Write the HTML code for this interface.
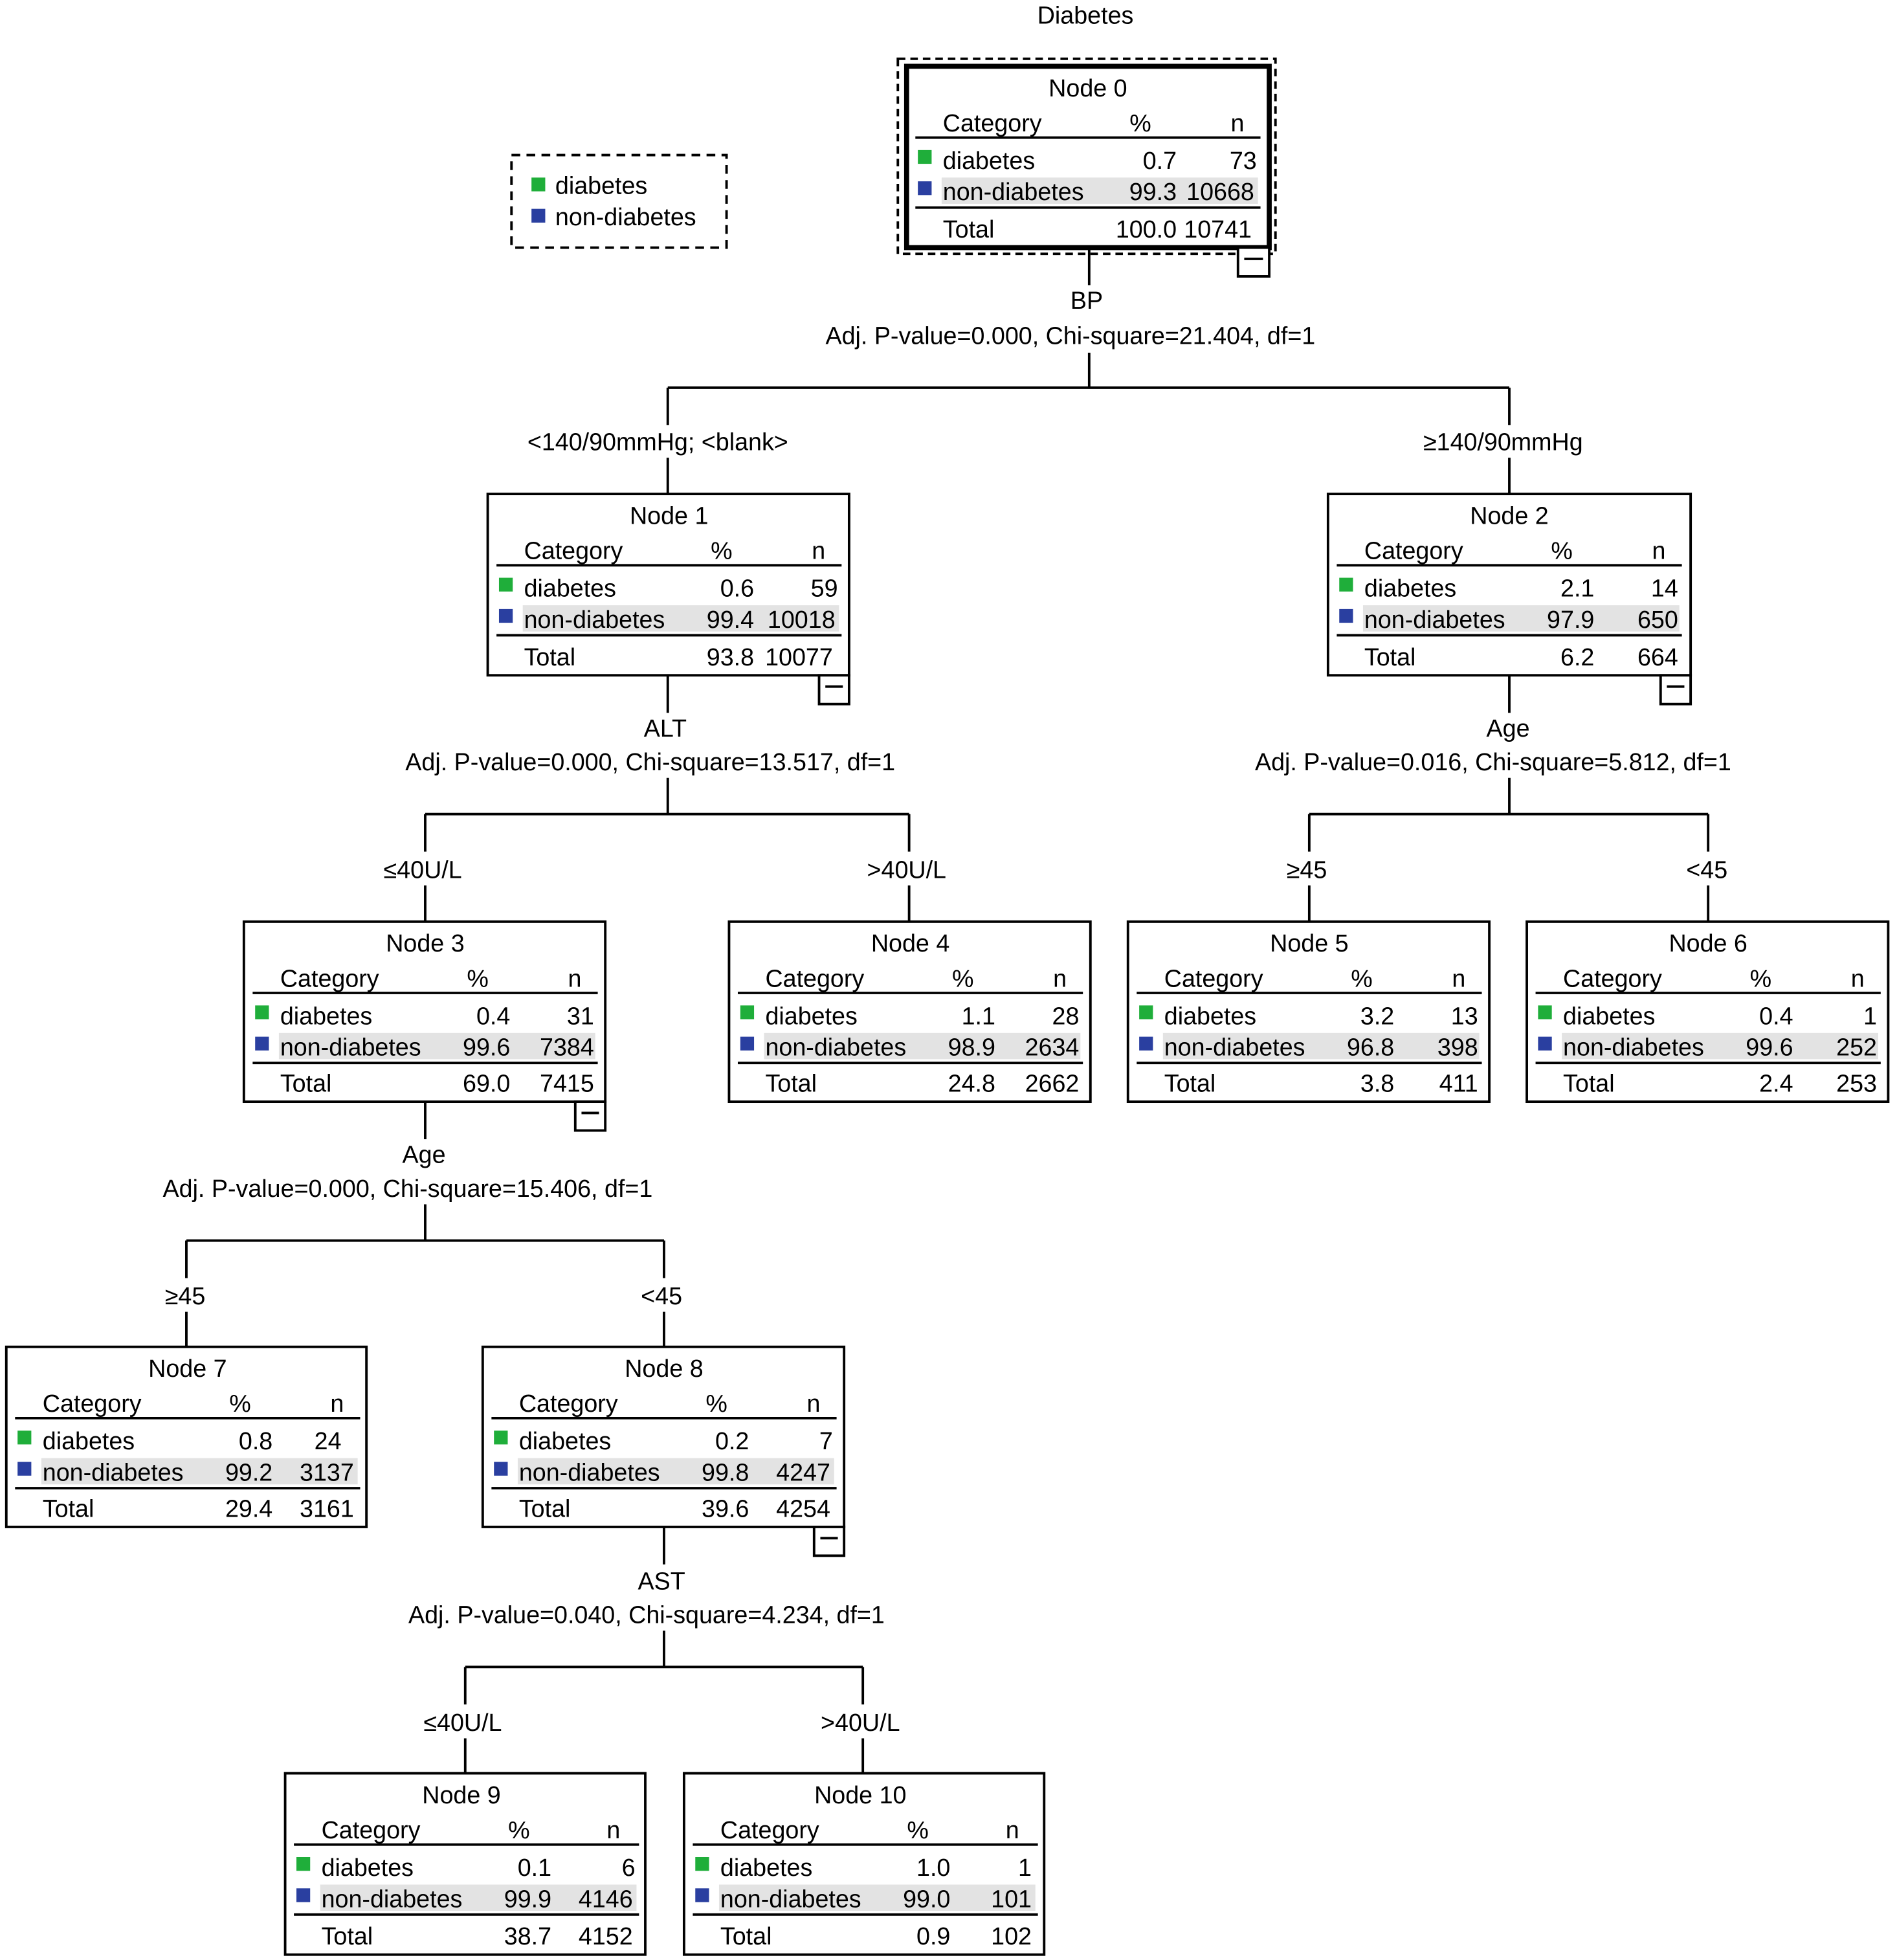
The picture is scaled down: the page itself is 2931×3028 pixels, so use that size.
<!DOCTYPE html>
<html><head><meta charset="utf-8"><style>
html,body{margin:0;padding:0;background:#fff}
svg{display:block}
text{font-family:"Liberation Sans",Arial,sans-serif;font-size:19.5px;fill:#000}
.m{text-anchor:middle}.e{text-anchor:end}
</style></head><body>
<svg width="2931" height="3028" viewBox="0 0 1517 1567.3" xmlns="http://www.w3.org/2000/svg">
<rect x="0" y="0" width="1517" height="1568" fill="#fff"/>
<text class="m" x="868" y="19">Diabetes</text>

<!-- legend -->
<rect x="409" y="124" width="172" height="74" fill="none" stroke="#000" stroke-width="2" stroke-dasharray="7,5"/>
<rect x="425" y="142" width="11" height="11" fill="#1fae3a"/>
<rect x="425" y="167" width="11" height="11" fill="#2a3fa0"/>
<text x="444" y="155">diabetes</text>
<text x="444" y="180">non-diabetes</text>

<!-- connectors -->
<g stroke="#000" stroke-width="2" fill="none">
<path d="M871 198V228M871 282V310M534 310H1207M534 310V340M534 366V395M1207 310V340M1207 366V395"/>
<path d="M534 540V570M534 622V651M340 651H727M340 651V681M340 708V737M727 651V681M727 708V737"/>
<path d="M1207 540V570M1207 622V651M1047 651H1366M1047 651V681M1047 708V737M1366 651V681M1366 708V737"/>
<path d="M340 881V911M340 963V992M149 992H531M149 992V1022M149 1049V1077M531 992V1022M531 1049V1077"/>
<path d="M531 1221V1251M531 1304V1333M372 1333H690M372 1333V1363M372 1390V1418M690 1333V1363M690 1390V1418"/>
</g>
<text class="m" x="869" y="247">BP</text>
<text class="m" x="856" y="275">Adj. P-value=0.000, Chi-square=21.404, df=1</text>
<text class="m" x="526" y="360">&lt;140/90mmHg; &lt;blank&gt;</text>
<text class="m" x="1202" y="360">≥140/90mmHg</text>
<text class="m" x="532" y="589">ALT</text>
<text class="m" x="520" y="616">Adj. P-value=0.000, Chi-square=13.517, df=1</text>
<text class="m" x="338" y="702">≤40U/L</text>
<text class="m" x="725" y="702">&gt;40U/L</text>
<text class="m" x="1206" y="589">Age</text>
<text class="m" x="1194" y="616">Adj. P-value=0.016, Chi-square=5.812, df=1</text>
<text class="m" x="1045" y="702">≥45</text>
<text class="m" x="1365" y="702">&lt;45</text>
<text class="m" x="339" y="930">Age</text>
<text class="m" x="326" y="957">Adj. P-value=0.000, Chi-square=15.406, df=1</text>
<text class="m" x="148" y="1043">≥45</text>
<text class="m" x="529" y="1043">&lt;45</text>
<text class="m" x="529" y="1271">AST</text>
<text class="m" x="517" y="1298">Adj. P-value=0.040, Chi-square=4.234, df=1</text>
<text class="m" x="370" y="1384">≤40U/L</text>
<text class="m" x="688" y="1384">&gt;40U/L</text>

<!-- Node 0 -->
<rect x="718" y="47" width="302" height="156" fill="none" stroke="#000" stroke-width="2" stroke-dasharray="6,4"/>
<g transform="translate(725,53)">
<rect x="0" y="0" width="290" height="145" fill="#fff" stroke="#000" stroke-width="4"/>
<text class="m" x="145" y="24">Node 0</text>
<text x="29" y="52">Category</text><text class="m" x="187" y="52">%</text><text class="e" x="270" y="52">n</text>
<line x1="7" y1="57" x2="283" y2="57" stroke="#000" stroke-width="2"/>
<rect x="28" y="89" width="253" height="21" fill="#e3e3e3"/>
<rect x="9" y="67" width="11" height="11" fill="#1fae3a"/><rect x="9" y="92" width="11" height="11" fill="#2a3fa0"/>
<text x="29" y="82">diabetes</text><text class="e" x="216" y="82">0.7</text><text class="e" x="280" y="82">73</text>
<text x="29" y="107">non-diabetes</text><text class="e" x="216" y="107">99.3</text><text class="e" x="278" y="107">10668</text>
<line x1="7" y1="113" x2="283" y2="113" stroke="#000" stroke-width="2"/>
<text x="29" y="137">Total</text><text class="e" x="216" y="137">100.0</text><text class="e" x="276" y="137">10741</text>
</g>
<rect x="990" y="198" width="25" height="23" fill="#fff" stroke="#000" stroke-width="2"/><line x1="995" y1="207" x2="1010" y2="207" stroke="#000" stroke-width="2"/>

<!-- Node 1 -->
<g transform="translate(390,395)">
<rect x="0" y="0" width="289" height="145" fill="#fff" stroke="#000" stroke-width="2"/>
<text class="m" x="145" y="24">Node 1</text>
<text x="29" y="52">Category</text><text class="m" x="187" y="52">%</text><text class="e" x="270" y="52">n</text>
<line x1="7" y1="57" x2="283" y2="57" stroke="#000" stroke-width="2"/>
<rect x="28" y="89" width="253" height="21" fill="#e3e3e3"/>
<rect x="9" y="67" width="11" height="11" fill="#1fae3a"/><rect x="9" y="92" width="11" height="11" fill="#2a3fa0"/>
<text x="29" y="82">diabetes</text><text class="e" x="213" y="82">0.6</text><text class="e" x="280" y="82">59</text>
<text x="29" y="107">non-diabetes</text><text class="e" x="213" y="107">99.4</text><text class="e" x="278" y="107">10018</text>
<line x1="7" y1="113" x2="283" y2="113" stroke="#000" stroke-width="2"/>
<text x="29" y="137">Total</text><text class="e" x="213" y="137">93.8</text><text class="e" x="276" y="137">10077</text>
<rect x="265" y="145" width="24" height="23" fill="#fff" stroke="#000" stroke-width="2"/><line x1="270" y1="154" x2="284" y2="154" stroke="#000" stroke-width="2"/>
</g>

<!-- Node 2 -->
<g transform="translate(1062,395)">
<rect x="0" y="0" width="290" height="145" fill="#fff" stroke="#000" stroke-width="2"/>
<text class="m" x="145" y="24">Node 2</text>
<text x="29" y="52">Category</text><text class="m" x="187" y="52">%</text><text class="e" x="270" y="52">n</text>
<line x1="7" y1="57" x2="283" y2="57" stroke="#000" stroke-width="2"/>
<rect x="28" y="89" width="253" height="21" fill="#e3e3e3"/>
<rect x="9" y="67" width="11" height="11" fill="#1fae3a"/><rect x="9" y="92" width="11" height="11" fill="#2a3fa0"/>
<text x="29" y="82">diabetes</text><text class="e" x="213" y="82">2.1</text><text class="e" x="280" y="82">14</text>
<text x="29" y="107">non-diabetes</text><text class="e" x="213" y="107">97.9</text><text class="e" x="280" y="107">650</text>
<line x1="7" y1="113" x2="283" y2="113" stroke="#000" stroke-width="2"/>
<text x="29" y="137">Total</text><text class="e" x="213" y="137">6.2</text><text class="e" x="280" y="137">664</text>
<rect x="266" y="145" width="24" height="23" fill="#fff" stroke="#000" stroke-width="2"/><line x1="271" y1="154" x2="285" y2="154" stroke="#000" stroke-width="2"/>
</g>

<!-- Node 3 -->
<g transform="translate(195,737)">
<rect x="0" y="0" width="289" height="144" fill="#fff" stroke="#000" stroke-width="2"/>
<text class="m" x="145" y="24">Node 3</text>
<text x="29" y="52">Category</text><text class="m" x="187" y="52">%</text><text class="e" x="270" y="52">n</text>
<line x1="7" y1="57" x2="283" y2="57" stroke="#000" stroke-width="2"/>
<rect x="28" y="89" width="253" height="21" fill="#e3e3e3"/>
<rect x="9" y="67" width="11" height="11" fill="#1fae3a"/><rect x="9" y="92" width="11" height="11" fill="#2a3fa0"/>
<text x="29" y="82">diabetes</text><text class="e" x="213" y="82">0.4</text><text class="e" x="280" y="82">31</text>
<text x="29" y="107">non-diabetes</text><text class="e" x="213" y="107">99.6</text><text class="e" x="280" y="107">7384</text>
<line x1="7" y1="113" x2="283" y2="113" stroke="#000" stroke-width="2"/>
<text x="29" y="136">Total</text><text class="e" x="213" y="136">69.0</text><text class="e" x="280" y="136">7415</text>
<rect x="265" y="144" width="24" height="23" fill="#fff" stroke="#000" stroke-width="2"/><line x1="270" y1="153" x2="284" y2="153" stroke="#000" stroke-width="2"/>
</g>

<!-- Node 4 -->
<g transform="translate(583,737)">
<rect x="0" y="0" width="289" height="144" fill="#fff" stroke="#000" stroke-width="2"/>
<text class="m" x="145" y="24">Node 4</text>
<text x="29" y="52">Category</text><text class="m" x="187" y="52">%</text><text class="e" x="270" y="52">n</text>
<line x1="7" y1="57" x2="283" y2="57" stroke="#000" stroke-width="2"/>
<rect x="28" y="89" width="253" height="21" fill="#e3e3e3"/>
<rect x="9" y="67" width="11" height="11" fill="#1fae3a"/><rect x="9" y="92" width="11" height="11" fill="#2a3fa0"/>
<text x="29" y="82">diabetes</text><text class="e" x="213" y="82">1.1</text><text class="e" x="280" y="82">28</text>
<text x="29" y="107">non-diabetes</text><text class="e" x="213" y="107">98.9</text><text class="e" x="280" y="107">2634</text>
<line x1="7" y1="113" x2="283" y2="113" stroke="#000" stroke-width="2"/>
<text x="29" y="136">Total</text><text class="e" x="213" y="136">24.8</text><text class="e" x="280" y="136">2662</text>
</g>

<!-- Node 5 -->
<g transform="translate(902,737)">
<rect x="0" y="0" width="289" height="144" fill="#fff" stroke="#000" stroke-width="2"/>
<text class="m" x="145" y="24">Node 5</text>
<text x="29" y="52">Category</text><text class="m" x="187" y="52">%</text><text class="e" x="270" y="52">n</text>
<line x1="7" y1="57" x2="283" y2="57" stroke="#000" stroke-width="2"/>
<rect x="28" y="89" width="253" height="21" fill="#e3e3e3"/>
<rect x="9" y="67" width="11" height="11" fill="#1fae3a"/><rect x="9" y="92" width="11" height="11" fill="#2a3fa0"/>
<text x="29" y="82">diabetes</text><text class="e" x="213" y="82">3.2</text><text class="e" x="280" y="82">13</text>
<text x="29" y="107">non-diabetes</text><text class="e" x="213" y="107">96.8</text><text class="e" x="280" y="107">398</text>
<line x1="7" y1="113" x2="283" y2="113" stroke="#000" stroke-width="2"/>
<text x="29" y="136">Total</text><text class="e" x="213" y="136">3.8</text><text class="e" x="280" y="136">411</text>
</g>

<!-- Node 6 -->
<g transform="translate(1221,737)">
<rect x="0" y="0" width="289" height="144" fill="#fff" stroke="#000" stroke-width="2"/>
<text class="m" x="145" y="24">Node 6</text>
<text x="29" y="52">Category</text><text class="m" x="187" y="52">%</text><text class="e" x="270" y="52">n</text>
<line x1="7" y1="57" x2="283" y2="57" stroke="#000" stroke-width="2"/>
<rect x="28" y="89" width="253" height="21" fill="#e3e3e3"/>
<rect x="9" y="67" width="11" height="11" fill="#1fae3a"/><rect x="9" y="92" width="11" height="11" fill="#2a3fa0"/>
<text x="29" y="82">diabetes</text><text class="e" x="213" y="82">0.4</text><text class="e" x="280" y="82">1</text>
<text x="29" y="107">non-diabetes</text><text class="e" x="213" y="107">99.6</text><text class="e" x="280" y="107">252</text>
<line x1="7" y1="113" x2="283" y2="113" stroke="#000" stroke-width="2"/>
<text x="29" y="136">Total</text><text class="e" x="213" y="136">2.4</text><text class="e" x="280" y="136">253</text>
</g>

<!-- Node 7 -->
<g transform="translate(5,1077)">
<rect x="0" y="0" width="288" height="144" fill="#fff" stroke="#000" stroke-width="2"/>
<text class="m" x="145" y="24">Node 7</text>
<text x="29" y="52">Category</text><text class="m" x="187" y="52">%</text><text class="e" x="270" y="52">n</text>
<line x1="7" y1="57" x2="283" y2="57" stroke="#000" stroke-width="2"/>
<rect x="28" y="89" width="253" height="21" fill="#e3e3e3"/>
<rect x="9" y="67" width="11" height="11" fill="#1fae3a"/><rect x="9" y="92" width="11" height="11" fill="#2a3fa0"/>
<text x="29" y="82">diabetes</text><text class="e" x="213" y="82">0.8</text><text class="e" x="268" y="82">24</text>
<text x="29" y="107">non-diabetes</text><text class="e" x="213" y="107">99.2</text><text class="e" x="278" y="107">3137</text>
<line x1="7" y1="113" x2="283" y2="113" stroke="#000" stroke-width="2"/>
<text x="29" y="136">Total</text><text class="e" x="213" y="136">29.4</text><text class="e" x="278" y="136">3161</text>
</g>

<!-- Node 8 -->
<g transform="translate(386,1077)">
<rect x="0" y="0" width="289" height="144" fill="#fff" stroke="#000" stroke-width="2"/>
<text class="m" x="145" y="24">Node 8</text>
<text x="29" y="52">Category</text><text class="m" x="187" y="52">%</text><text class="e" x="270" y="52">n</text>
<line x1="7" y1="57" x2="283" y2="57" stroke="#000" stroke-width="2"/>
<rect x="28" y="89" width="253" height="21" fill="#e3e3e3"/>
<rect x="9" y="67" width="11" height="11" fill="#1fae3a"/><rect x="9" y="92" width="11" height="11" fill="#2a3fa0"/>
<text x="29" y="82">diabetes</text><text class="e" x="213" y="82">0.2</text><text class="e" x="280" y="82">7</text>
<text x="29" y="107">non-diabetes</text><text class="e" x="213" y="107">99.8</text><text class="e" x="278" y="107">4247</text>
<line x1="7" y1="113" x2="283" y2="113" stroke="#000" stroke-width="2"/>
<text x="29" y="136">Total</text><text class="e" x="213" y="136">39.6</text><text class="e" x="278" y="136">4254</text>
<rect x="265" y="144" width="24" height="23" fill="#fff" stroke="#000" stroke-width="2"/><line x1="270" y1="153" x2="284" y2="153" stroke="#000" stroke-width="2"/>
</g>

<!-- Node 9 -->
<g transform="translate(228,1418)">
<rect x="0" y="0" width="288" height="145" fill="#fff" stroke="#000" stroke-width="2"/>
<text class="m" x="141" y="24">Node 9</text>
<text x="29" y="52">Category</text><text class="m" x="187" y="52">%</text><text class="e" x="268" y="52">n</text>
<line x1="7" y1="57" x2="283" y2="57" stroke="#000" stroke-width="2"/>
<rect x="28" y="89" width="253" height="21" fill="#e3e3e3"/>
<rect x="9" y="67" width="11" height="11" fill="#1fae3a"/><rect x="9" y="92" width="11" height="11" fill="#2a3fa0"/>
<text x="29" y="82">diabetes</text><text class="e" x="213" y="82">0.1</text><text class="e" x="280" y="82">6</text>
<text x="29" y="107">non-diabetes</text><text class="e" x="213" y="107">99.9</text><text class="e" x="278" y="107">4146</text>
<line x1="7" y1="113" x2="283" y2="113" stroke="#000" stroke-width="2"/>
<text x="29" y="137">Total</text><text class="e" x="213" y="137">38.7</text><text class="e" x="278" y="137">4152</text>
</g>

<!-- Node 10 -->
<g transform="translate(547,1418)">
<rect x="0" y="0" width="288" height="145" fill="#fff" stroke="#000" stroke-width="2"/>
<text class="m" x="141" y="24">Node 10</text>
<text x="29" y="52">Category</text><text class="m" x="187" y="52">%</text><text class="e" x="268" y="52">n</text>
<line x1="7" y1="57" x2="283" y2="57" stroke="#000" stroke-width="2"/>
<rect x="28" y="89" width="253" height="21" fill="#e3e3e3"/>
<rect x="9" y="67" width="11" height="11" fill="#1fae3a"/><rect x="9" y="92" width="11" height="11" fill="#2a3fa0"/>
<text x="29" y="82">diabetes</text><text class="e" x="213" y="82">1.0</text><text class="e" x="278" y="82">1</text>
<text x="29" y="107">non-diabetes</text><text class="e" x="213" y="107">99.0</text><text class="e" x="278" y="107">101</text>
<line x1="7" y1="113" x2="283" y2="113" stroke="#000" stroke-width="2"/>
<text x="29" y="137">Total</text><text class="e" x="213" y="137">0.9</text><text class="e" x="278" y="137">102</text>
</g>
</svg>
</body></html>
